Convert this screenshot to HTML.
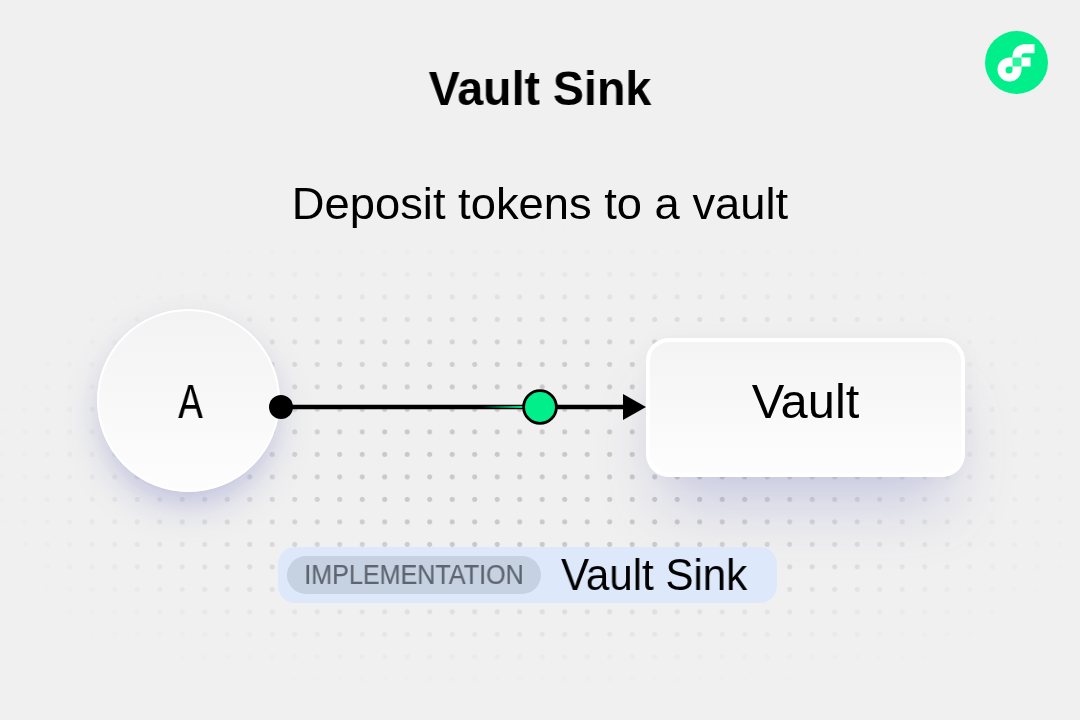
<!DOCTYPE html>
<html>
<head>
<meta charset="utf-8">
<style>
html,body{margin:0;padding:0;}
body{width:1080px;height:720px;overflow:hidden;background:#f0f0f0;position:relative;font-family:"Liberation Sans",sans-serif;color:#000;}
.abs{position:absolute;}
#dots{left:0;top:0;width:1080px;height:720px;
  -webkit-mask-image:radial-gradient(ellipse 560px 300px at 540px 470px,#000 30%,rgba(0,0,0,.5) 62%,rgba(0,0,0,.15) 85%,rgba(0,0,0,0) 100%);
  mask-image:radial-gradient(ellipse 560px 300px at 540px 470px,#000 30%,rgba(0,0,0,.5) 62%,rgba(0,0,0,.15) 85%,rgba(0,0,0,0) 100%);}
#dots2{left:0;top:0;width:1080px;height:720px;
  background-image:radial-gradient(circle at center,#c9c9c9 0,#c9c9c9 2.3px,rgba(201,201,201,0) 2.8px);
  background-size:22.5px 22.5px;
  background-position:-9.05px -6.85px;
  -webkit-mask-image:linear-gradient(180deg,rgba(0,0,0,0) 222px,#000 340px,#000 566px,rgba(0,0,0,0) 693px);
  mask-image:linear-gradient(180deg,rgba(0,0,0,0) 222px,#000 340px,#000 566px,rgba(0,0,0,0) 693px);}
.title{left:0;width:1080px;top:59px;will-change:transform;transform:scaleX(0.97);text-align:center;font-weight:bold;font-size:48px;line-height:60px;white-space:nowrap;}
.sub{left:0;width:1080px;top:175.5px;text-align:center;font-size:44px;line-height:56px;white-space:nowrap;transform:scaleX(1.03);will-change:transform;}
#circ-shadow{left:97px;top:309px;width:183px;height:183px;border-radius:50%;box-shadow:0 4px 30px rgba(0,0,0,0.025),0 18px 36px -6px rgba(100,105,190,0.34);}
#circ{left:97px;top:309px;width:183px;height:183px;border-radius:50%;box-sizing:border-box;border:2px solid #fff;
  background:linear-gradient(180deg,#f3f3f3 0%,#fdfdfd 100%);}
#box-shadow{left:646px;top:338px;width:319px;height:139px;border-radius:23px;box-shadow:0 0 24px rgba(0,0,0,0.03),0 42px 64px -18px rgba(100,105,190,0.29);}
#box{left:646px;top:338px;width:319px;height:139px;border-radius:23px;box-sizing:border-box;border:4px solid #fff;
  background:linear-gradient(180deg,#f4f4f4 0%,#fdfdfd 100%);}
.lbl{white-space:nowrap;text-align:center;}
#pill{left:278px;top:547px;width:499px;height:56px;border-radius:17px;background:#dde9fb;}
#impl{left:287px;top:556px;width:254px;height:38px;border-radius:19px;background:#c6d1e1;color:#5d6570;font-size:27px;line-height:38px;text-align:center;white-space:nowrap;}
#impl span{display:inline-block;transform:scaleX(0.93);will-change:transform;-webkit-text-stroke:0.2px #5d6570;}
#vs{left:561px;top:546.5px;font-size:44px;line-height:56px;white-space:nowrap;transform-origin:0 50%;transform:scaleX(0.956);will-change:transform;}
</style>
</head>
<body>
<div id="dots" class="abs"><div id="dots2" class="abs"></div></div>
<div id="circ-shadow" class="abs"></div>
<div id="box-shadow" class="abs"></div>

<div class="abs title">Vault Sink</div>
<div class="abs sub">Deposit tokens to a vault</div>

<svg class="abs" style="left:985.3px;top:31.4px" width="63" height="63" viewBox="0 0 63 63">
  <circle cx="31.5" cy="31.5" r="31.5" fill="#00EF8B"/>
  <path fill="#fff" d="M27.5 35.5 V25.2 A12 12 0 0 1 39.5 13.2 H49.5 V22.2 H39.5 A3 3 0 0 0 36.5 25.2 V26.5 H45.5 V35.5 Z"/>
  <path fill="#fff" fill-rule="evenodd" d="M36.5 26.5 V38.5 A12 12 0 0 1 24.5 50.5 A12 12 0 0 1 12.5 38.5 A12 12 0 0 1 24.5 26.5 Z M27.5 35.5 H24 A3.5 3.5 0 0 0 20.5 39 A3.5 3.5 0 0 0 24 42.5 A3.5 3.5 0 0 0 27.5 39 Z"/>
  <rect x="27.5" y="26.5" width="9" height="9" fill="#2cf59d"/>
</svg>

<div id="circ" class="abs"></div>
<div class="abs lbl" style="left:98.5px;top:376.5px;width:183px;font-family:'Liberation Mono',monospace;font-size:50px;line-height:56px;transform:scaleX(0.82);will-change:transform;">A</div>

<div id="box" class="abs"></div>
<div class="abs lbl" style="left:646px;top:374px;width:319px;font-size:48px;line-height:56px;transform:scaleX(1.017);will-change:transform;">Vault</div>

<svg class="abs" style="left:0;top:0" width="1080" height="720" viewBox="0 0 1080 720">
  <defs>
    <linearGradient id="trail" x1="482" y1="0" x2="524" y2="0" gradientUnits="userSpaceOnUse">
      <stop offset="0" stop-color="#00EF8B" stop-opacity="0"/>
      <stop offset="1" stop-color="#00EF8B" stop-opacity="1"/>
    </linearGradient>
  </defs>
  <line x1="281" y1="407" x2="626" y2="407" stroke="#000" stroke-width="4.4"/>
  <rect x="482" y="406" width="42" height="2" fill="url(#trail)"/>
  <circle cx="281" cy="407" r="12" fill="#000"/>
  <polygon points="623,394 646,407 623,420" fill="#000"/>
  <circle cx="540" cy="407" r="16.4" fill="#00EF8B" stroke="#000" stroke-width="2.8"/>
</svg>

<div id="pill" class="abs"></div>
<div id="impl" class="abs"><span>IMPLEMENTATION</span></div>
<div id="vs" class="abs">Vault Sink</div>
</body>
</html>
